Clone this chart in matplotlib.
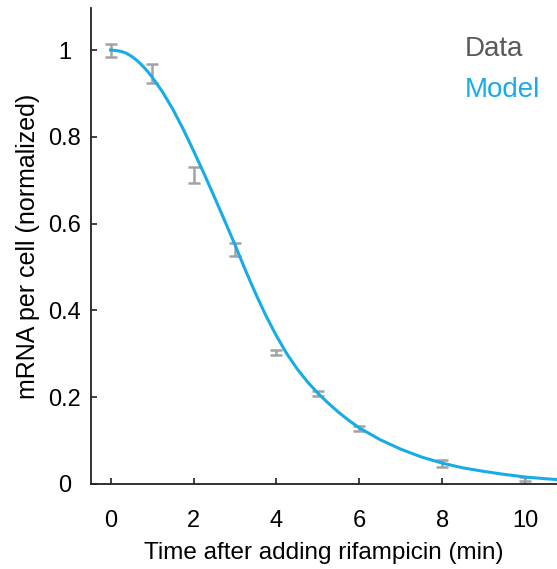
#!/usr/bin/env python3
"""mRNA decay after rifampicin: data with error bars vs model curve."""

import matplotlib

matplotlib.use("Agg")
import matplotlib.pyplot as plt  # noqa: E402

plt.rcParams["font.family"] = ["Liberation Sans", "DejaVu Sans"]

# measured points (min, normalized mRNA per cell, error)
data_t = [0, 1, 2, 3, 4, 5, 6, 8, 10]
data_y = [1.0, 0.946, 0.712, 0.541, 0.303, 0.209, 0.128, 0.047, 0.011]
data_err = [0.015, 0.023, 0.019, 0.015, 0.005, 0.006, 0.005, 0.008, 0.004]

# model curve
model_t = [0, 0.125, 0.25, 0.375, 0.5, 0.625, 0.75, 0.875, 1.0, 1.25, 1.5,
           1.75, 2.0, 2.25, 2.5, 2.75, 3.0, 3.25, 3.5, 3.75, 4.0, 4.25, 4.5,
           4.75, 5.0, 5.25, 5.5, 5.75, 6.0, 6.5, 7.0, 7.5, 8.0, 8.5, 9.0,
           9.5, 10.0, 10.5, 10.8]
model_y = [1.0, 0.999, 0.997, 0.993, 0.986, 0.977, 0.966, 0.953, 0.938,
           0.904, 0.864, 0.818, 0.768, 0.716, 0.662, 0.607, 0.551, 0.493,
           0.438, 0.387, 0.341, 0.300, 0.265, 0.235, 0.209, 0.186, 0.165,
           0.146, 0.129, 0.102, 0.080, 0.062, 0.048, 0.037, 0.029, 0.022,
           0.016, 0.012, 0.010]

DATA_COLOR = "#a3a3a3"
MODEL_COLOR = "#17ace6"

fig = plt.figure(figsize=(5.57, 5.69), dpi=100)
ax = fig.add_axes([0.1634, 0.1494, 0.8366, 0.8366])

ax.errorbar(data_t, data_y, yerr=data_err, fmt="none", ecolor=DATA_COLOR,
            elinewidth=1.8, capsize=4, capthick=1.8, zorder=2)
ax.plot(model_t, model_y, color=MODEL_COLOR, linewidth=2.2, zorder=3)

ax.set_xlim(-0.47, 10.76)
ax.set_ylim(0, 1.097)
ax.set_xticks([0, 2, 4, 6, 8, 10])
ax.set_yticks([0, 0.2, 0.4, 0.6, 0.8, 1])
ax.set_yticklabels(["0", "0.2", "0.4", "0.6", "0.8", "1"], ha="center")

for side in ("top", "right"):
    ax.spines[side].set_visible(False)
for side in ("left", "bottom"):
    ax.spines[side].set_linewidth(1.3)
    ax.spines[side].set_color("#222222")

ax.tick_params(axis="both", direction="in", length=4, width=1.2,
               colors="#222222", labelsize=17, labelcolor="black")
ax.tick_params(axis="x", pad=19)
ax.tick_params(axis="y", pad=19)

ax.set_xlabel("Time after adding rifampicin (min)", fontsize=17.5, labelpad=7)
ax.set_ylabel("mRNA per cell (normalized)", fontsize=18, labelpad=6)

ax.text(0.802, 0.913, "Data", transform=ax.transAxes, fontsize=20,
        color="#5a5a5a", ha="left", va="center")
ax.text(0.802, 0.827, "Model", transform=ax.transAxes, fontsize=20,
        color=MODEL_COLOR, ha="left", va="center")

fig.savefig("out.png", dpi=100)
